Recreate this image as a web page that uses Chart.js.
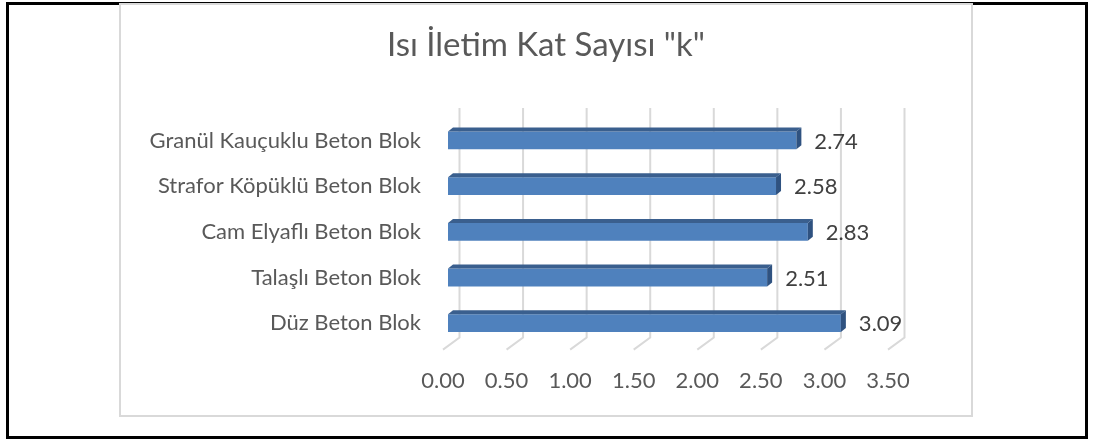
<!DOCTYPE html>
<html>
<head>
<meta charset="utf-8">
<script src="https://cdn.jsdelivr.net/npm/chart.js@4/dist/chart.umd.min.js"></script>
<style>
  html, body { margin: 0; padding: 0; background: #fff; }
  body { width: 1096px; height: 439px; position: relative; overflow: hidden; }
  #frame {
    position: absolute; left: 6px; top: 2px; width: 1082px; height: 437px;
    border: 3px solid #000; box-sizing: border-box;
  }
  #box {
    position: absolute; left: 119px; top: 3px; width: 854px; height: 414px;
    border: 2px solid #d9d9d9; box-sizing: border-box;
  }
  #myChart { position: absolute; left: 121px; top: 5px; }
</style>
</head>
<body>
<div id="frame"></div>
<div id="box"></div>
<canvas id="myChart" width="850" height="410"></canvas>
<script>
const categories = [
    "Granül Kauçuklu Beton Blok",
    "Strafor Köpüklü Beton Blok",
    "Cam Elyaflı Beton Blok",
    "Talaşlı Beton Blok",
    "Düz Beton Blok"
];
const kValues = [2.74, 2.58, 2.83, 2.51, 3.09];
const xMin = 0;
const xMax = 3.5;
const xStep = 0.5;
const chartTitle = 'Isı İletim Kat Sayısı "k"';

const FONT = "Lato, 'Open Sans', sans-serif";
const TEXT_GRAY = '#595959';

// depth of the fake 3d floor and of the bars
const WALL_DX = 16.5, WALL_TOP = 9.6, WALL_BOTTOM = 8.4, FLOOR_FRONT = 3.6;
const BAR_SHIFT = 5, BAR_DX = 5, BAR_DY = 4;

// title centred on the whole canvas, not only on the plot
const centerTitle = {
    id: 'centerTitle',
    afterDraw(chart) {
        const ctx = chart.ctx;
        ctx.save();
        ctx.font = '33px ' + FONT;
        ctx.fillStyle = TEXT_GRAY;
        ctx.textAlign = 'center';
        ctx.textBaseline = 'alphabetic';
        ctx.fillText(chartTitle, chart.width / 2, 51);
        ctx.restore();
    }
};

// back wall grid lines + slanted floor lines
const wallGrid = {
    id: 'wallGrid',
    beforeDatasetsDraw(chart) {
        const {ctx, chartArea, scales: {x}} = chart;
        ctx.save();
        ctx.strokeStyle = '#d9d9d9';
        ctx.lineWidth = 2;
        for (let v = xMin; v <= xMax + 1e-9; v += xStep) {
            const px = x.getPixelForValue(v);
            ctx.beginPath();
            ctx.moveTo(px + WALL_DX, chartArea.top - WALL_TOP);
            ctx.lineTo(px + WALL_DX, chartArea.bottom - WALL_BOTTOM);
            ctx.lineTo(px, chartArea.bottom + FLOOR_FRONT);
            ctx.stroke();
        }
        ctx.restore();
    }
};

// bars sit a little behind the front plane, then get a top and side face
const bars3d = {
    id: 'bars3d',
    beforeDatasetDraw(chart) {
        chart.ctx.save();
        chart.ctx.translate(BAR_SHIFT, 0);
    },
    afterDatasetDraw(chart, args) {
        const ctx = chart.ctx;
        args.meta.data.forEach(bar => {
            const top = bar.y - bar.height / 2;
            const bottom = bar.y + bar.height / 2;
            ctx.fillStyle = '#3a5f8e';
            ctx.beginPath();
            ctx.moveTo(bar.base, top);
            ctx.lineTo(bar.base + BAR_DX, top - BAR_DY);
            ctx.lineTo(bar.x + BAR_DX, top - BAR_DY);
            ctx.lineTo(bar.x, top);
            ctx.closePath();
            ctx.fill();
            ctx.fillStyle = '#2f5280';
            ctx.beginPath();
            ctx.moveTo(bar.x, top);
            ctx.lineTo(bar.x + BAR_DX, top - BAR_DY);
            ctx.lineTo(bar.x + BAR_DX, bottom - BAR_DY);
            ctx.lineTo(bar.x, bottom);
            ctx.closePath();
            ctx.fill();
        });
        ctx.restore();
    },
    afterDatasetsDraw(chart) {
        const ctx = chart.ctx;
        const meta = chart.getDatasetMeta(0);
        ctx.save();
        ctx.font = '22px ' + FONT;
        ctx.fillStyle = '#404040';
        ctx.textAlign = 'left';
        ctx.textBaseline = 'middle';
        meta.data.forEach((bar, i) => {
            ctx.fillText(kValues[i].toFixed(2), bar.x + BAR_SHIFT + BAR_DX + 13, bar.y + 1);
        });
        ctx.restore();
    }
};

const ctx = document.getElementById('myChart').getContext('2d');

const chart = new Chart(ctx, {
    type: 'bar',
    data: {
        labels: categories,
        datasets: [{
            label: chartTitle,
            data: kValues,
            backgroundColor: '#4f81bd',
            borderWidth: 0,
            barPercentage: 0.39,
            categoryPercentage: 1
        }]
    },
    options: {
        indexAxis: 'y',
        responsive: false,
        animation: false,
        layout: {
            padding: {top: 112.6, left: 0, right: 83, bottom: 20}
        },
        plugins: {
            legend: {display: false},
            tooltip: {enabled: false},
            title: {display: false}
        },
        scales: {
            x: {
                min: xMin,
                max: xMax,
                grid: {display: false, drawTicks: false},
                border: {display: false},
                ticks: {
                    stepSize: xStep,
                    padding: 22,
                    color: TEXT_GRAY,
                    font: {family: FONT, size: 22},
                    callback: v => v.toFixed(2)
                },
                afterFit(scale) {
                    scale.height = 49;
                }
            },
            y: {
                grid: {display: false, drawTicks: false},
                border: {display: false},
                ticks: {
                    padding: 22,
                    color: TEXT_GRAY,
                    font: {family: FONT, size: 22}
                },
                afterFit(scale) {
                    scale.width = 322;
                }
            }
        }
    },
    plugins: [wallGrid, bars3d, centerTitle]
});
</script>
</body>
</html>
